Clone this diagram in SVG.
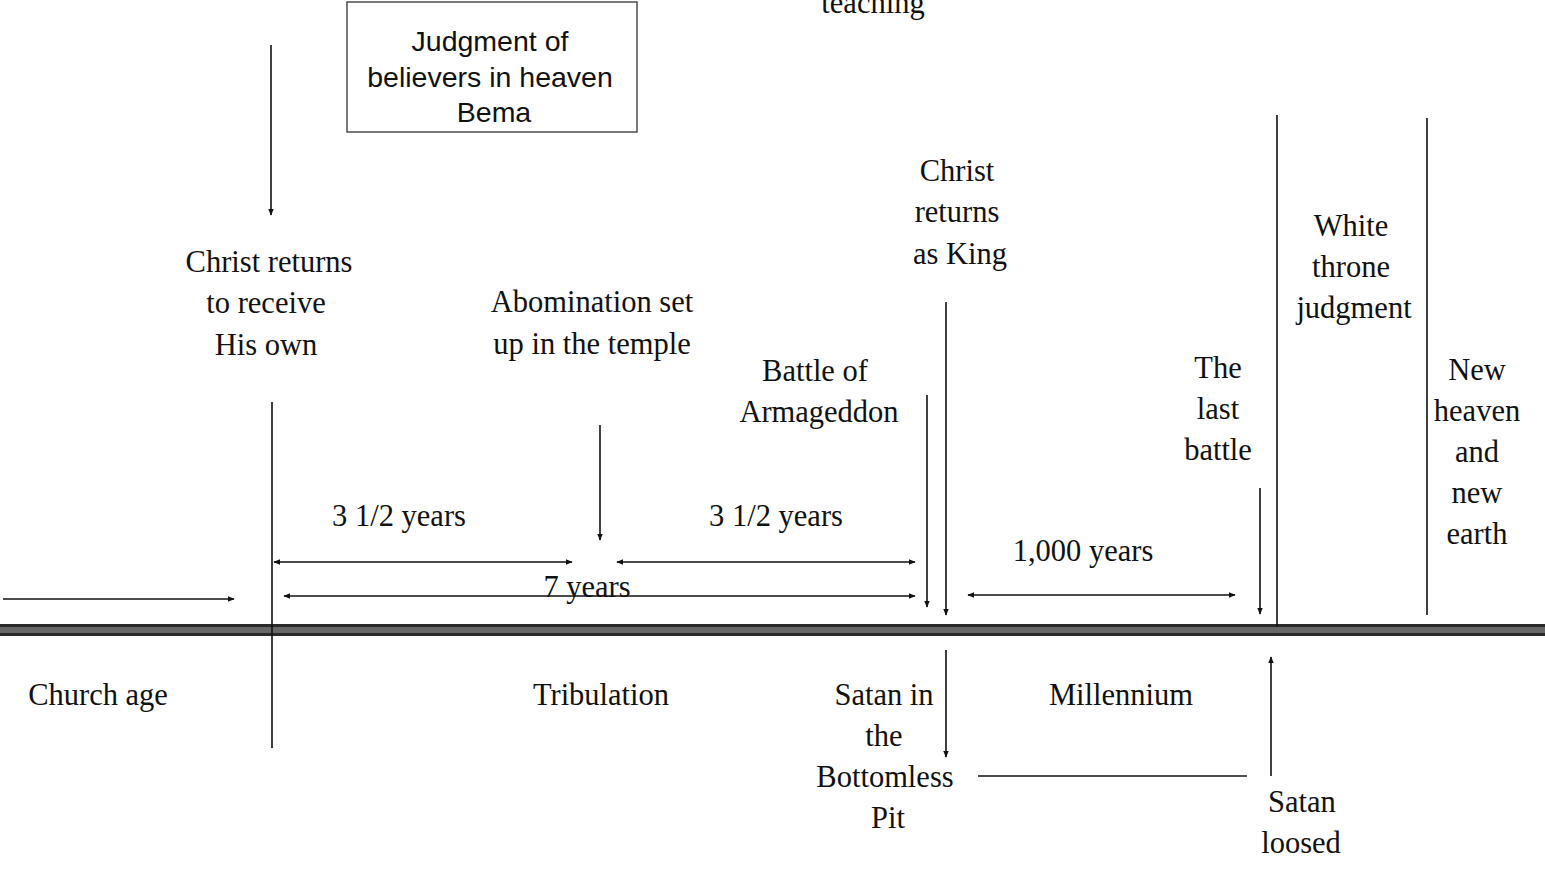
<svg xmlns="http://www.w3.org/2000/svg" width="1545" height="893" viewBox="0 0 1545 893">
<defs>
<marker id="ah" viewBox="0 0 10 10" refX="9" refY="5" markerWidth="7" markerHeight="7" markerUnits="userSpaceOnUse" orient="auto-start-reverse">
<path d="M0,1 L10,5 L0,9 z" fill="#111"/>
</marker>
<style>
text{font-family:"Liberation Serif","Times New Roman",serif;font-size:30.5px;fill:#111;text-anchor:middle}
.sans{font-family:"Liberation Sans",Arial,sans-serif;font-size:28.5px}
.ln{stroke:#111;stroke-width:1.6;fill:none}
.ar{stroke:#111;stroke-width:1.6;fill:none;marker-end:url(#ah)}
.ar2{stroke:#111;stroke-width:1.6;fill:none;marker-end:url(#ah);marker-start:url(#ah)}
</style>
</defs>
<rect width="1545" height="893" fill="#fff"/>
<g id="timeline">
<rect x="0" y="624" width="1545" height="12" fill="#2a2a2a"/>
<rect x="0" y="627" width="1545" height="6" fill="#777" opacity="0.8"/>
</g>
<g id="connectors">
<line class="ar" x1="271" y1="45" x2="271" y2="215"/>
<line class="ln" x1="272" y1="402" x2="272" y2="748"/>
<line class="ar" x1="600" y1="425" x2="600" y2="540"/>
<line class="ar2" x1="274" y1="562" x2="572" y2="562"/>
<line class="ar2" x1="617" y1="562" x2="915" y2="562"/>
<line class="ar2" x1="284" y1="596" x2="915" y2="596"/>
<line class="ar" x1="3" y1="599" x2="234" y2="599"/>
<line class="ar" x1="927" y1="395" x2="927" y2="607"/>
<line class="ar" x1="946" y1="302" x2="946" y2="615"/>
<line class="ar2" x1="968" y1="595" x2="1235" y2="595"/>
<line class="ar" x1="1260" y1="488" x2="1260" y2="614"/>
<line class="ln" x1="1277" y1="115" x2="1277" y2="627"/>
<line class="ln" x1="1427" y1="118" x2="1427" y2="615"/>
<line class="ar" x1="946" y1="650" x2="946" y2="757"/>
<line class="ln" x1="978" y1="776" x2="1247" y2="776"/>
<line class="ar" x1="1271" y1="776" x2="1271" y2="657"/>
</g>
<g id="teaching"><text x="873" y="13">teaching</text></g>
<g id="bema">
<rect x="347" y="2" width="290" height="130" fill="#fff" stroke="#333" stroke-width="1.3"/>
<text class="sans" x="490" y="51">Judgment of</text>
<text class="sans" x="490" y="87">believers in heaven</text>
<text class="sans" x="494" y="122">Bema</text>
</g>
<g id="christ-returns-receive">
<text x="269" y="272">Christ returns</text>
<text x="266" y="313">to receive</text>
<text x="266" y="355">His own</text>
</g>
<g id="abomination">
<text x="592" y="312">Abomination set</text>
<text x="592" y="354">up in the temple</text>
</g>
<g id="half1"><text x="399" y="526">3 1/2 years</text></g>
<g id="half2"><text x="776" y="526">3 1/2 years</text></g>
<g id="seven"><text x="587" y="597">7 years</text></g>
<g id="armageddon">
<text x="815" y="381">Battle of</text>
<text x="819" y="422">Armageddon</text>
</g>
<g id="christ-king">
<text x="957" y="181">Christ</text>
<text x="957" y="222">returns</text>
<text x="960" y="264">as King</text>
</g>
<g id="thousand"><text x="1083" y="561">1,000 years</text></g>
<g id="last-battle">
<text x="1218" y="378">The</text>
<text x="1218" y="419">last</text>
<text x="1218" y="460">battle</text>
</g>
<g id="white-throne">
<text x="1351" y="236">White</text>
<text x="1351" y="277">throne</text>
<text x="1354" y="318">judgment</text>
</g>
<g id="new-heaven">
<text x="1477" y="380">New</text>
<text x="1477" y="421">heaven</text>
<text x="1477" y="462">and</text>
<text x="1477" y="503">new</text>
<text x="1477" y="544">earth</text>
</g>
<g id="church-age"><text x="98" y="705">Church age</text></g>
<g id="tribulation"><text x="601" y="705">Tribulation</text></g>
<g id="satan-pit">
<text x="884" y="705">Satan in</text>
<text x="884" y="746">the</text>
<text x="885" y="787">Bottomless</text>
<text x="888" y="828">Pit</text>
</g>
<g id="millennium"><text x="1121" y="705">Millennium</text></g>
<g id="satan-loosed">
<text x="1302" y="812">Satan</text>
<text x="1301" y="853">loosed</text>
</g>
</svg>
